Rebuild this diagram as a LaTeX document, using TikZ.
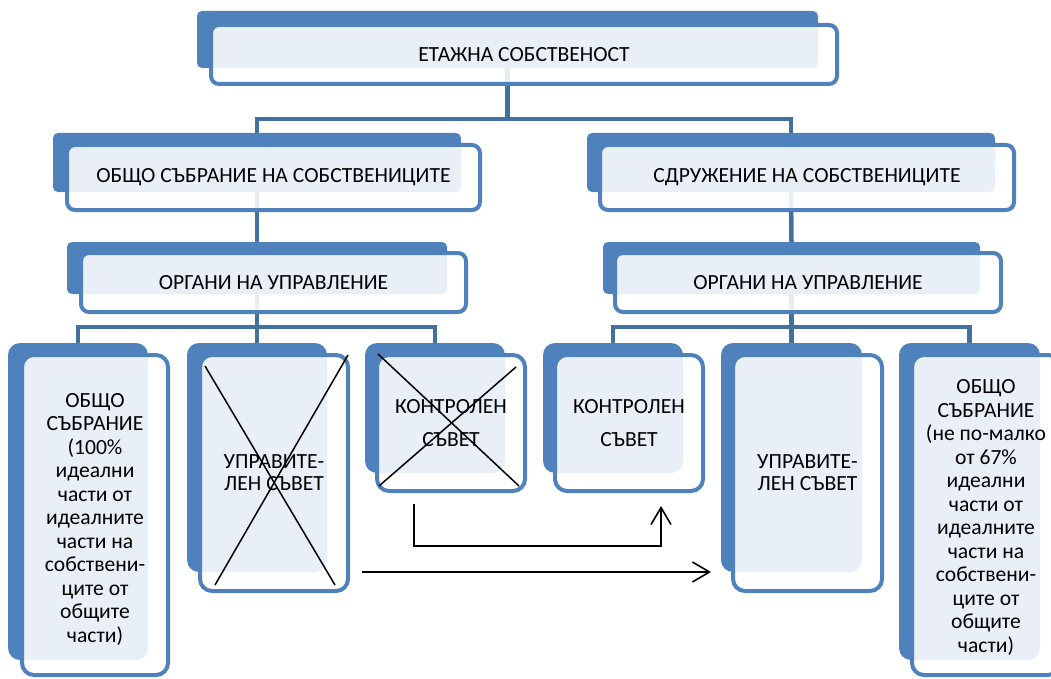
\documentclass[tikz,border=0pt]{standalone}
\usepackage{fontspec}
\setmainfont{Carlito}
\usetikzlibrary{arrows.meta}
\pgfdeclarelayer{bg}
\pgfsetlayers{bg,main}
\definecolor{acc}{HTML}{4F81BD}
\definecolor{conn}{HTML}{41719C}
\tikzset{
  back/.style={rectangle, fill=acc, draw=none, inner sep=0pt, outer sep=0pt},
  front/.style={rectangle, fill=white, fill opacity=0.88, text opacity=1, draw=acc, draw opacity=1, line width=4pt, inner sep=0pt, outer sep=0pt, align=center, font=\fontsize{21.6}{23.5}\selectfont},
  bigr/.style={rounded corners=5pt},
  bigf/.style={rounded corners=8pt},
  smallr/.style={rounded corners=12pt},
  conline/.style={draw=conn, line width=4.5pt},
  cross/.style={draw=black, line width=1.5pt},
  arr/.style={draw=black, line width=1.6pt, -{Straight Barb[length=17pt,width=20pt,line width=1.6pt]}},
}
\begin{document}
\begin{tikzpicture}[x=1pt,y=-1pt]
\useasboundingbox (0,0) rectangle (1051,679);
\clip (0,0) rectangle (1051,679);
% top
\node[back,bigr,minimum width=621pt,minimum height=57pt] (topB) at (507.5,39.5) {};
\node[front,bigf,minimum width=626pt,minimum height=59pt] (top) at (524,54.5) {ЕТАЖНА СОБСТВЕНОСТ};
% level 2
\node[back,bigr,minimum width=408pt,minimum height=59pt] (l2lB) at (257,162.5) {};
\node[front,bigf,minimum width=413pt,minimum height=65pt] (l2l) at (273.5,177.5) {ОБЩО СЪБРАНИЕ НА СОБСТВЕНИЦИТЕ};
\node[back,bigr,minimum width=408pt,minimum height=59pt] (l2rB) at (791,162.5) {};
\node[front,bigf,minimum width=414pt,minimum height=65pt] (l2r) at (807,177.5) {СДРУЖЕНИЕ НА СОБСТВЕНИЦИТЕ};
% level 3
\node[back,bigr,minimum width=380pt,minimum height=52pt] (l3lB) at (257,268) {};
\node[front,bigf,minimum width=385pt,minimum height=59pt] (l3l) at (273.5,282.5) {ОРГАНИ НА УПРАВЛЕНИЕ};
\node[back,bigr,minimum width=377pt,minimum height=52pt] (l3rB) at (791.5,268) {};
\node[front,bigf,minimum width=386pt,minimum height=59pt] (l3r) at (808,282.5) {ОРГАНИ НА УПРАВЛЕНИЕ};
% level 4
\node[back,smallr,minimum width=140pt,minimum height=317pt] (aB) at (78,501.5) {};
\node[back,smallr,minimum width=140pt,minimum height=229pt] (bB) at (257,457.5) {};
\node[back,smallr,minimum width=140pt,minimum height=130pt] (cB) at (435,408) {};
\node[back,smallr,minimum width=140pt,minimum height=130pt] (dB) at (613,408) {};
\node[back,smallr,minimum width=141pt,minimum height=229pt] (eB) at (791.5,457.5) {};
\node[back,smallr,minimum width=141pt,minimum height=317pt] (fB) at (969.5,501.5) {};
\node[front,smallr,minimum width=146pt,minimum height=320pt] (a) at (95,515) {};
\node[align=center,font=\fontsize{21.6}{23.5}\selectfont,inner sep=0pt] (at) at (95,519) {ОБЩО\\СЪБРАНИЕ\\(100\%\\идеални\\части от\\идеалните\\части на\\собствени-\\ците от\\общите\\части)};
\node[front,smallr,minimum width=148pt,minimum height=236pt,font=\fontsize{21.6}{22}\selectfont] (b) at (274,473) {УПРАВИТЕ-\\ЛЕН СЪВЕТ};
\node[front,smallr,minimum width=148pt,minimum height=136pt,font=\fontsize{21.6}{33}\selectfont] (c) at (451,423) {КОНТРОЛЕН\\СЪВЕТ};
\node[front,smallr,minimum width=148pt,minimum height=136pt,font=\fontsize{21.6}{33}\selectfont] (d) at (629,423) {КОНТРОЛЕН\\СЪВЕТ};
\node[front,smallr,minimum width=149pt,minimum height=236pt,font=\fontsize{21.6}{22}\selectfont] (e) at (807.5,473) {УПРАВИТЕ-\\ЛЕН СЪВЕТ};
\node[front,smallr,minimum width=148pt,minimum height=320pt] (f) at (986,515) {};
\node[align=center,font=\fontsize{21.6}{23.5}\selectfont,inner sep=0pt] (ft) at (986,517.5) {ОБЩО\\СЪБРАНИЕ\\(не по-малко\\от 67\%\\идеални\\части от\\идеалните\\части на\\собствени-\\ците от\\общите\\части)};
% connectors
\begin{pgfonlayer}{bg}
\draw[conline] (topB.south) -- ++(0,51) -| (l2lB.north);
\draw[conline] (topB.south) -- ++(0,51) -| (l2rB.north);
\draw[conline] (l2lB.south) -- (l3lB.north);
\draw[conline] (l2rB.south) -- (l3rB.north);
\draw[conline] (l3lB.south) -- ++(0,33) -| (aB.north);
\draw[conline] (l3lB.south) -- ++(0,33) -| (bB.north);
\draw[conline] (l3lB.south) -- ++(0,33) -| (cB.north);
\draw[conline] (l3rB.south) -- ++(0,33) -| (dB.north);
\draw[conline] (l3rB.south) -- ++(0,33) -| (eB.north);
\draw[conline] (l3rB.south) -- ++(0,33) -| (fB.north);
\end{pgfonlayer}
% crosses
\draw[cross] (205,366) -- (335,585);
\draw[cross] (215,585) -- (348,355);
\draw[cross] (378,354) -- (519,486);
\draw[cross] (379,486) -- (516,367);
% arrows
\coordinate (a1s) at (414,504);
\coordinate (a1e) at (661,506);
\coordinate (a2s) at (362,572);
\coordinate (a2e) at (711,572);
\draw[arr] (a1s) -- ++(0,42) -| (a1e);
\draw[arr] (a2s) -- (a2e);
\end{tikzpicture}
\end{document}
